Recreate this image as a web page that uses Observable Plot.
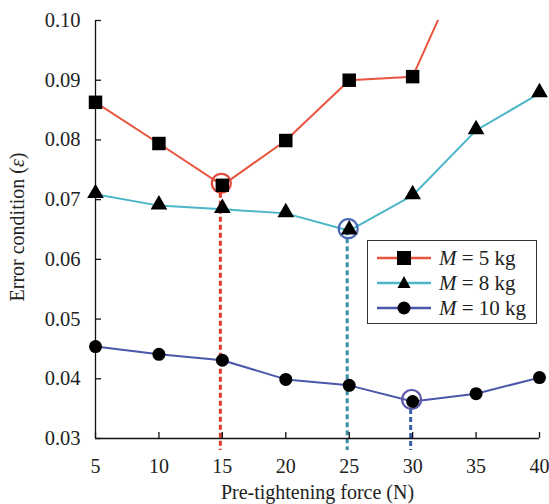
<!DOCTYPE html>
<html>
<head>
<meta charset="utf-8">
<script src="https://cdn.jsdelivr.net/npm/d3@7"></script>
<script src="https://cdn.jsdelivr.net/npm/@observablehq/plot@0.6"></script>
<style>
  html, body { margin: 0; padding: 0; background: #fff; }
  #wrap { position: relative; width: 549px; height: 504px; font-family: "Liberation Serif", "DejaVu Serif", serif; }
  #chart svg, #chart svg text, #chart svg tspan { font-family: "Liberation Serif", "DejaVu Serif", serif !important; }
  #legend { position: absolute; left: 367px; top: 240px; width: 170px; height: 84px; border: 1.3px solid #333; background: #fff; box-sizing: border-box; }
  .row { position: absolute; left: 0; height: 24px; display: flex; align-items: center; font-size: 21px; color: #222; white-space: nowrap; }
  .row svg { margin-left: 9px; margin-right: 8px; }
</style>
</head>
<body>
<div id="wrap">
  <div id="chart"></div>
  <div id="legend"></div>
</div>
<script>
const forces = [5, 10, 15, 20, 25, 30, 35, 40];
const m5 = [0.0863, 0.0794, 0.0724, 0.0799, 0.0900, 0.0906, 0.1143];
const m8 = [0.0709, 0.0690, 0.0684, 0.0677, 0.0648, 0.0707, 0.0816, 0.0878];
const m10 = [0.0454, 0.0441, 0.0431, 0.0399, 0.0389, 0.0362, 0.0375, 0.0402];
const yTicks = [0.03, 0.04, 0.05, 0.06, 0.07, 0.08, 0.09, 0.10];
const seriesNames = ["M = 5 kg", "M = 8 kg", "M = 10 kg"];
const lineColors = ["#e8553f", "#4bb6c7", "#4a57aa"];
const optima = [
  {force: 15, value: 0.0724, color: "#e03a2e", ring: "#e04a3a"},
  {force: 25, value: 0.0648, color: "#3d8ca0", ring: "#4a68b8"},
  {force: 30, value: 0.0362, color: "#3b5fae", ring: "#5a56a8"}
];
const yMin = 0.03, yMax = 0.10, yBelow = 0.028;
const serif = "Liberation Serif";

const toRows = (vals, s) => vals.map((v, i) => ({force: forces[i], value: v, series: s}));
const data = [...toRows(m5, 0), ...toRows(m8, 1), ...toRows(m10, 2)];

const marks = [];
optima.forEach(o => {
  marks.push(Plot.ruleX([o], {x: "force", y1: "value", y2: () => yBelow, stroke: o.color, strokeWidth: 3, strokeDasharray: "5,3", dx: -2}));
});
marks.push(Plot.ruleY([yMin], {stroke: "#111", strokeWidth: 1.3}));
marks.push(Plot.ruleX([forces[0]], {stroke: "#111", strokeWidth: 1.3}));
marks.push(Plot.tickX(forces, {x: d => d, stroke: "#111", strokeWidth: 1.3, insetTop: 412}));
marks.push(Plot.tickY(yTicks, {y: d => d, stroke: "#111", strokeWidth: 1.3, insetRight: 438}));
[0, 1, 2].forEach(s => {
  marks.push(Plot.line(data.filter(d => d.series === s), {x: "force", y: "value", stroke: lineColors[s], strokeWidth: 2, clip: true}));
});
optima.forEach(o => {
  marks.push(Plot.dot([o], {x: "force", y: "value", r: 9.5, stroke: o.ring, strokeWidth: 2.2, fill: "none", dx: -1, dy: -2}));
});
marks.push(Plot.dot(data.filter(d => d.series === 0 && d.value <= yMax), {x: "force", y: "value", symbol: () => "square", r: 7.6, fill: "#000"}));
marks.push(Plot.dot(data.filter(d => d.series === 1), {x: "force", y: "value", symbol: () => "triangle", r: 6.2, fill: "#000", dy: -1}));
marks.push(Plot.dot(data.filter(d => d.series === 2), {x: "force", y: "value", symbol: () => "circle", r: 6.5, fill: "#000"}));
marks.push(Plot.axisX(forces, {tickSize: 0, tickPadding: 20, fontSize: 20, fontFamily: serif, label: "Pre-tightening force (N)", labelAnchor: "center", labelArrow: "none", labelOffset: 60, fill: "#222"}));
marks.push(Plot.axisY(yTicks, {tickSize: 0, tickPadding: 15, fontSize: 20.5, fontFamily: serif, tickFormat: d3.format(".2f"), label: null, fill: "#222"}));

const chart = Plot.plot({
  width: 549,
  height: 504,
  marginLeft: 95,
  marginRight: 10,
  marginTop: 20,
  marginBottom: 66,
  style: {fontFamily: "'Liberation Serif', serif", fontSize: "20px", color: "#222", background: "#fff"},
  x: {domain: [5, 40]},
  y: {domain: [yMin, yMax]},
  symbol: {domain: ["square", "triangle", "circle"]},
  marks
});
chart.setAttribute("font-family", "Liberation Serif, serif");
document.getElementById("chart").appendChild(chart);

const svg = d3.select(chart);
svg.append("text")
  .attr("transform", "translate(24,227) rotate(-90)")
  .attr("text-anchor", "middle")
  .attr("font-size", 20)
  .attr("font-family", serif)
  .attr("fill", "#222")
  .html('Error condition (<tspan font-style="italic">ε</tspan>)');

const legend = document.getElementById("legend");
const glyph = (s) => {
  if (s === 0) return '<rect x="20" y="5" width="14" height="14" fill="#000"/>';
  if (s === 1) return '<path d="M27,5 L33.5,17 L20.5,17 Z" fill="#000"/>';
  return '<circle cx="27" cy="12" r="6.5" fill="#000"/>';
};
seriesNames.forEach((name, s) => {
  const row = document.createElement("div");
  row.className = "row";
  row.style.top = (5 + s * 25) + "px";
  const [m, rest] = [name.slice(0, 1), name.slice(1)];
  row.innerHTML = `<svg width="54" height="24"><line x1="0" x2="54" y1="12" y2="12" stroke="${lineColors[s]}" stroke-width="2.5"/>${glyph(s)}</svg><span><i>${m}</i>${rest}</span>`;
  legend.appendChild(row);
});
</script>
</body>
</html>
